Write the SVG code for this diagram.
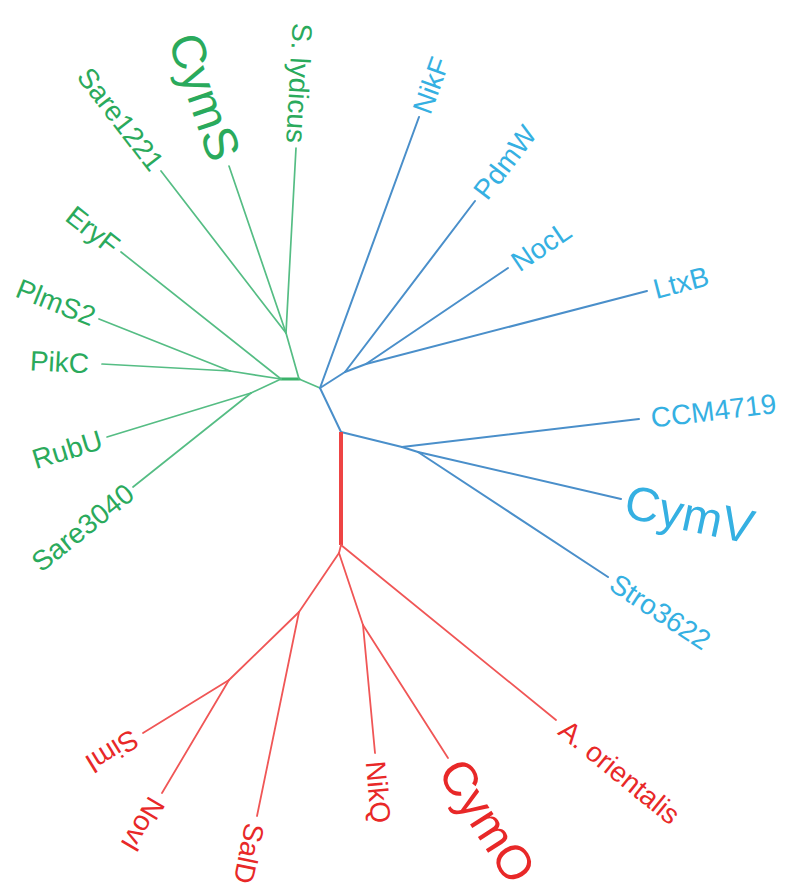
<svg xmlns="http://www.w3.org/2000/svg" width="790" height="884" viewBox="0 0 790 884">
<style>
  .g{stroke:#55bd84;stroke-width:1.7;fill:none;stroke-linecap:round}
  .b{stroke:#4a8fca;stroke-width:2;fill:none;stroke-linecap:round}
  .r{stroke:#f05656;stroke-width:1.8;fill:none;stroke-linecap:round}
  text{font-family:"Liberation Sans",Arial,sans-serif;font-size:28px}
  .tg{fill:#2aaa5c}
  .tb{fill:#35b0e2}
  .tr{fill:#e82828}
  .big{font-size:48px}
  .end{text-anchor:end}
</style>
<rect width="790" height="884" fill="#ffffff"/>
<g id="connectors">
  <!-- green clade -->
  <line class="g" x1="320" y1="388" x2="299" y2="379"/>
  <line class="g" x1="299" y1="379" x2="281" y2="379" style="stroke-width:3;stroke:#3ab26a"/>
  <line class="g" x1="299" y1="379" x2="286" y2="333"/>
  <line class="g" x1="286" y1="333" x2="296" y2="148"/>
  <line class="g" x1="286" y1="333" x2="229" y2="166"/>
  <line class="g" x1="286" y1="333" x2="161" y2="171"/>
  <line class="g" x1="281" y1="379" x2="121" y2="252"/>
  <line class="g" x1="281" y1="379" x2="230" y2="371"/>
  <line class="g" x1="230" y1="371" x2="99" y2="319"/>
  <line class="g" x1="230" y1="371" x2="102" y2="364"/>
  <line class="g" x1="281" y1="379" x2="251" y2="393"/>
  <line class="g" x1="251" y1="393" x2="107" y2="437"/>
  <line class="g" x1="251" y1="393" x2="133" y2="487"/>
  <!-- blue clade -->
  <line class="b" x1="320" y1="388" x2="419" y2="117"/>
  <line class="b" x1="320" y1="388" x2="345" y2="372"/>
  <line class="b" x1="345" y1="372" x2="475" y2="201"/>
  <line class="b" x1="345" y1="372" x2="366" y2="364"/>
  <line class="b" x1="366" y1="364" x2="508" y2="268"/>
  <line class="b" x1="366" y1="364" x2="647" y2="291"/>
  <line class="b" x1="320" y1="388" x2="341" y2="432"/>
  <line class="b" x1="341" y1="432" x2="402" y2="447"/>
  <line class="b" x1="402" y1="447" x2="639" y2="419"/>
  <line class="b" x1="402" y1="447" x2="418" y2="452"/>
  <line class="b" x1="418" y1="452" x2="621" y2="499"/>
  <line class="b" x1="418" y1="452" x2="608" y2="577"/>
  <!-- red clade -->
  <line class="r" x1="341" y1="432" x2="341" y2="545" style="stroke-width:4;stroke-linecap:butt;stroke:#ee4444"/>
  <line class="r" x1="341" y1="545" x2="556" y2="720"/>
  <line class="r" x1="341" y1="545" x2="339" y2="553"/>
  <line class="r" x1="339" y1="553" x2="299" y2="612"/>
  <line class="r" x1="299" y1="612" x2="257" y2="816"/>
  <line class="r" x1="299" y1="612" x2="229" y2="680"/>
  <line class="r" x1="229" y1="680" x2="143" y2="733"/>
  <line class="r" x1="229" y1="680" x2="162" y2="793"/>
  <line class="r" x1="339" y1="553" x2="363" y2="625"/>
  <line class="r" x1="363" y1="625" x2="375" y2="753"/>
  <line class="r" x1="363" y1="625" x2="448" y2="758"/>
</g>
<!-- green labels -->
<g id="S_lydicus"><text class="tg end" transform="translate(296.3,143) rotate(93.1)" dy="0.36em">S. lydicus</text></g>
<g id="CymS"><text class="tg end big" transform="translate(226.4,158.4) rotate(71.15)" dy="0.36em">CymS</text></g>
<g id="Sare1221"><text class="tg end" transform="translate(157.9,167) rotate(52.35)" dy="0.36em">Sare1221</text></g>
<g id="EryF"><text class="tg end" transform="translate(116.3,248.3) rotate(38.44)" dy="0.36em">EryF</text></g>
<g id="PlmS2"><text class="tg end" transform="translate(94.4,317.2) rotate(21.65)" dy="0.36em">PlmS2</text></g>
<g id="PikC"><text class="tg end" transform="translate(89,363.3) rotate(3.13)" dy="0.36em">PikC</text></g>
<g id="RubU"><text class="tg end" transform="translate(101.3,438.8) rotate(-16.99)" dy="0.36em">RubU</text></g>
<g id="Sare3040"><text class="tg end" transform="translate(129.9,489.5) rotate(-38.54)" dy="0.36em">Sare3040</text></g>
<!-- blue labels -->
<g id="NikF"><text class="tb" transform="translate(420.7,112.3) rotate(-69.9)" dy="0.36em">NikF</text></g>
<g id="PdmW"><text class="tb" transform="translate(479.2,195.4) rotate(-52.8)" dy="0.36em">PdmW</text></g>
<g id="NocL"><text class="tb" transform="translate(513.8,264.1) rotate(-34.06)" dy="0.36em">NocL</text></g>
<g id="LtxB"><text class="tb" transform="translate(653.8,289.2) rotate(-14.56)" dy="0.36em">LtxB</text></g>
<g id="CCM4719"><text class="tb" transform="translate(650.9,417.6) rotate(-6.74)" dy="0.36em">CCM4719</text></g>
<g id="CymV"><text class="tb big" transform="translate(625.9,500.1) rotate(12)" dy="0.36em">CymV</text></g>
<g id="Stro3622"><text class="tb" transform="translate(613,580.3) rotate(33.3)" dy="0.36em">Stro3622</text></g>
<!-- red labels -->
<g id="A_orientalis"><text class="tr" transform="translate(563,725.7) rotate(39.1)" dy="0.36em">A. orientalis</text></g>
<g id="CymO"><text class="tr big" transform="translate(451.2,763.1) rotate(57.4)" dy="0.36em">CymO</text></g>
<g id="NikQ"><text class="tr" transform="translate(375.7,761) rotate(84.64)" dy="0.36em">NikQ</text></g>
<g id="SalD"><text class="tr" transform="translate(255.4,823.8) rotate(101.6)" dy="0.36em">SalD</text></g>
<g id="NovI"><text class="tr" transform="translate(157.9,799.9) rotate(120.66)" dy="0.36em">NovI</text></g>
<g id="SimI"><text class="tr" transform="translate(136.2,737.2) rotate(148.35)" dy="0.36em">SimI</text></g>
</svg>
